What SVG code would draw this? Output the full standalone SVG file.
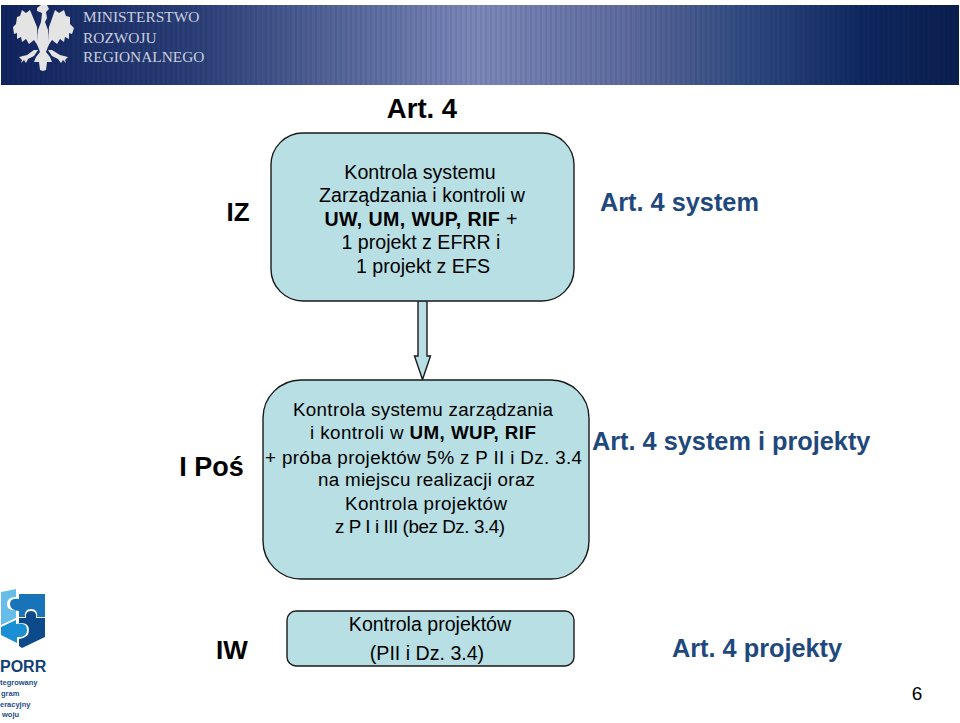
<svg xmlns="http://www.w3.org/2000/svg" width="960" height="723" viewBox="0 0 960 723">
<style>
text{font-family:"Liberation Sans",Arial,sans-serif;fill:#000}
.body{font-size:19.6px;text-anchor:middle}
.body2{font-size:18.8px;text-anchor:middle}
.lab{font-size:26px;font-weight:bold;text-anchor:middle}
.art{font-size:25.3px;font-weight:bold}
.blue{fill:#1f497d}
.box{fill:#b7dfe4;stroke:#1a1a1a;stroke-width:1.4}
.ban{font-family:"Liberation Serif",serif;font-size:15.4px;fill:#c9cfdf}
.sub{font-size:7.5px;font-weight:bold;fill:#1d4f86}
</style>
<defs>
<linearGradient id="bg" x1="0" x2="1" y1="0" y2="0">
<stop offset="0" stop-color="#10245f"/>
<stop offset=".2" stop-color="#2b3f78"/>
<stop offset=".35" stop-color="#54659a"/>
<stop offset=".5" stop-color="#7c88ba"/>
<stop offset=".65" stop-color="#5f6c9f"/>
<stop offset=".78" stop-color="#2f4a80"/>
<stop offset=".9" stop-color="#0f2860"/>
<stop offset="1" stop-color="#0b1f50"/>
</linearGradient>
<pattern id="stripes" width="5" height="10" patternUnits="userSpaceOnUse">
<rect width="2" height="10" fill="#000" opacity=".07"/>
</pattern>
</defs>
<rect width="960" height="723" fill="#fff"/>
<g id="banner">
<rect x="1" y="5" width="958" height="80" fill="url(#bg)"/>
<rect x="1" y="5" width="958" height="80" fill="url(#stripes)"/>
<g fill="#e4e4e4">
<path d="M37 27 L30 10 L26 13 L22 10 L20 16 L17 17 L16 24 L13 27 L14 34 L17 33 L17 39 L21 37 L22 42 L26 39 L29 44 L34 40 L38 46Z"/>
<path d="M49 27 L55 10 L59 13 L64 10 L66 16 L70 17 L70 24 L74 28 L72 34 L69 33 L69 39 L65 37 L64 42 L60 39 L57 44 L52 40 L48 46Z"/>
<path d="M37 8 L41 5 L47 5 L49 9 L46 12 L47 18 L45 22 L48 30 L49 44 L46 52 L50 57 L52 62 L47 62 L46 70 L43 71 L40 70 L39 62 L34 62 L36 57 L40 52 L37 44 L38 30 L41 22 L42 13 L37 11Z"/>
<path d="M19 57 L27 55 L34 50 L38 50 L34 56 L28 59 L26 63 L24 60 L21 63 L22 60Z"/>
<path d="M68 57 L60 55 L52 50 L48 50 L52 56 L58 59 L61 63 L63 60 L66 63 L65 60Z"/>
</g>
<text class="ban" x="83" y="22">MINISTERSTWO</text>
<text class="ban" x="83" y="43">ROZWOJU</text>
<text class="ban" x="83" y="62">REGIONALNEGO</text>
</g>
<g id="logo">
<path d="M1 592 L16 589 L16 597 Q7 597 7 604 Q7 611 16 610 L16 618 L1 625Z" fill="#67bde8"/>
<path d="M19 594 L45 594 L45 617 L37 617 Q38 609 31 609 Q24 609 25 617 L19 617 L19 611 Q10 610 10 604 Q10 598 19 599Z" fill="#1873b8"/>
<path d="M1 627 L16 620 L16 624 Q27 622 27 630 Q27 638 17 637 L17 643 L1 635Z" fill="#1b8fd3"/>
<path d="M19 618 L26 618 Q25 611 31 611 Q37 611 36 618 L45 618 L45 637 L22 648 L19 646 L19 639 Q29 638 29 630 Q29 622 19 623Z" fill="#0d4a8c"/>
<text x="0" y="672" style="font-size:16px;font-weight:bold;fill:#123f78">PORR</text>
<text class="sub" x="0" y="685">tegrowany</text>
<text class="sub" x="1" y="696">gram</text>
<text class="sub" x="0" y="707">eracyjny</text>
<text class="sub" x="2" y="717">woju</text>
</g>
<text class="art" style="font-size:27.500px" x="422" y="118" text-anchor="middle">Art. 4</text>
<g id="connectors">
<path class="box" d="M418 300.500 H427 V356 H430.500 L422.500 379.500 L414.500 356 H418Z"/>
</g>
<g id="node-iz">
<text class="lab" x="238" y="221">IZ</text>
<rect class="box" x="271" y="133" width="303" height="168" rx="32"/>
<text class="body" x="420" y="179">Kontrola systemu</text>
<text class="body" x="422" y="202">Zarządzania i kontroli w</text>
<text class="body" x="421" y="226" textLength="193"><tspan font-weight="bold">UW, UM, WUP, RIF</tspan> +</text>
<text class="body" x="421" y="249">1 projekt z EFRR i</text>
<text class="body" x="423" y="273">1 projekt z EFS</text>
<text class="art blue" x="600" y="211">Art. 4 system</text>
</g>
<g id="node-ipos">
<text class="lab" style="font-size:27px" x="211.500" y="476">I Poś</text>
<rect class="box" x="263" y="380" width="326" height="199" rx="38"/>
<text class="body2" x="423" y="416" textLength="260">Kontrola systemu zarządzania</text>
<text class="body2" x="423" y="439" textLength="226">i kontroli w <tspan font-weight="bold">UM, WUP, RIF</tspan></text>
<text class="body2" x="423.500" y="464" textLength="317">+ próba projektów 5% z P II i Dz. 3.4</text>
<text class="body2" x="426.500" y="486" textLength="217">na miejscu realizacji oraz</text>
<text class="body2" x="426" y="510" textLength="162">Kontrola projektów</text>
<text class="body2" x="420" y="533" textLength="170">z P I i III (bez Dz. 3.4)</text>
<text class="art blue" x="592" y="450">Art. 4 system i projekty</text>
</g>
<g id="node-iw">
<text class="lab" x="232" y="659">IW</text>
<rect class="box" x="287" y="611" width="287" height="55" rx="9"/>
<text class="body" x="430" y="631">Kontrola projektów</text>
<text class="body" x="427" y="660">(PII i Dz. 3.4)</text>
<text class="art blue" x="672" y="657">Art. 4 projekty</text>
</g>
<text x="917" y="700" font-size="19" text-anchor="middle">6</text>
</svg>
